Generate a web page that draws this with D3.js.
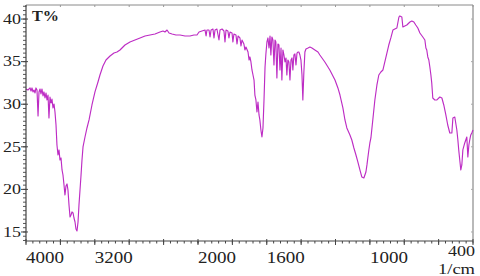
<!DOCTYPE html>
<html><head><meta charset="utf-8">
<script src="https://cdn.jsdelivr.net/npm/d3@7"></script>
<style>html,body{margin:0;padding:0;background:#fff;} svg{display:block;}</style>
</head><body><svg id="c" width="480" height="276"></svg>
<script>
const wavenumber = [4000,3977,3953,3942,3930,3919,3907,3895,3884,3872,3860,3849,3837,3826,3814,3802,3791,3779,3767,3756,3744,3733,3721,3709,3698,3686,3674,3663,3651,3640,3628,3616,3605,3593,3581,3570,3558,3547,3535,3523,3512,3500,3488,3477,3465,3453,3442,3430,3419,3407,3395,3384,3372,3360,3349,3337,3314,3291,3267,3233,3198,3163,3140,3105,3070,3023,2977,2942,2907,2849,2791,2733,2674,2616,2558,2500,2442,2407,2384,2360,2337,2302,2256,2209,2151,2093,2047,2012,1994,1977,1959,1953,1948,1936,1930,1924,1913,1907,1901,1890,1878,1872,1860,1849,1843,1837,1826,1820,1814,1802,1797,1791,1779,1773,1767,1756,1750,1744,1733,1727,1721,1709,1703,1698,1692,1686,1680,1674,1669,1663,1657,1651,1645,1640,1634,1628,1622,1616,1610,1605,1599,1593,1587,1581,1576,1570,1564,1558,1552,1547,1541,1535,1529,1523,1517,1512,1506,1500,1494,1488,1483,1477,1471,1465,1459,1453,1448,1442,1436,1430,1424,1419,1413,1407,1401,1395,1390,1384,1378,1372,1360,1349,1337,1320,1302,1291,1262,1233,1203,1186,1174,1157,1145,1134,1116,1105,1093,1081,1070,1058,1047,1035,1023,1017,1012,1006,1000,994,983,971,959,948,936,924,913,901,890,878,866,855,843,831,826,814,808,797,785,767,756,744,733,721,709,692,680,674,669,663,657,651,645,640,634,622,610,593,581,570,558,547,535,523,517,506,494,488,483,477,471,465,459,448,436,430,424,419,413,407,400];
const transmittance = [31.79,31.67,31.91,31.55,31.91,31.44,31.67,31.32,31.91,31.67,28.62,31.44,31.79,31.20,31.79,30.97,31.44,30.73,31.32,30.50,31.08,28.38,30.85,30.14,30.61,29.56,30.03,29.09,27.56,25.21,24.04,24.63,23.45,23.69,22.28,21.69,20.52,19.34,20.40,20.64,19.93,18.17,16.76,17.00,17.35,17.23,16.64,16.17,15.35,15.12,16.17,18.17,19.93,21.69,23.45,24.98,26.15,27.21,28.15,29.91,31.44,32.61,33.43,34.49,35.19,35.66,36.01,36.13,36.37,36.95,37.31,37.54,37.78,38.01,38.13,38.25,38.48,38.60,38.48,38.71,38.36,38.25,38.13,38.13,38.01,38.01,38.13,38.13,38.48,38.60,38.71,38.01,38.71,38.71,37.89,38.71,38.83,37.78,38.71,38.83,37.54,38.71,38.83,38.60,37.31,38.71,38.60,37.78,38.48,38.36,37.31,38.25,38.13,37.07,38.01,37.78,36.84,37.54,37.07,36.37,36.72,36.13,35.19,35.55,34.96,34.02,33.43,32.84,31.08,30.50,29.09,30.26,28.74,28.15,26.97,26.15,27.21,30.50,34.37,35.90,37.31,37.78,36.60,38.01,35.78,37.89,37.54,34.61,37.54,37.31,33.08,37.07,36.95,34.02,36.60,32.84,36.37,35.78,34.96,35.43,33.43,35.19,34.96,32.84,35.19,35.43,34.02,35.78,35.90,34.61,36.01,36.13,36.13,35.78,35.19,33.43,30.50,33.78,36.13,36.48,36.60,36.72,36.60,36.37,36.13,35.78,34.96,34.02,32.84,31.91,31.08,29.56,28.15,27.21,26.39,25.80,24.86,24.04,23.22,22.28,21.46,21.34,22.04,22.87,23.69,24.63,25.45,26.04,28.15,30.50,32.26,33.43,33.78,34.02,34.96,36.01,36.95,37.78,38.71,38.83,38.95,40.24,40.36,40.24,39.07,39.18,39.30,39.65,39.77,39.65,39.30,38.95,38.36,37.89,37.54,36.60,36.37,35.55,35.19,34.37,33.43,32.49,30.73,30.50,30.50,30.85,30.73,29.91,28.74,27.56,26.62,26.62,28.38,28.50,26.97,25.80,24.63,23.45,22.28,22.87,24.63,25.45,26.15,23.81,25.21,25.80,26.39,26.62,26.97];
const xMajorTicks = [4000,3600,3200,2800,2400,2000,1800,1600,1400,1200,1000,800,600,400];
const xLabelTicks = [4000,3200,2000,1600,1000,400];
const yMajorTicks = [15,20,25,30,35,40];
const yTitle = "T%";
const xUnit = "1/cm";

const W = 480, H = 276, m = {l:26, r:7, t:5, b:35};
const x = d3.scaleLinear().domain([4000, 2000, 400]).range([m.l, m.l + 172, W - m.r]);
const y = d3.scaleLinear().domain([13.94, 41.65]).range([H - m.b, m.t]);
const svg = d3.select("#c");
const serif = "'Liberation Serif','Times New Roman',serif";

// minor x ticks
const xMinor = [];
for (let v = 4000; v >= 2000; v -= 80) xMinor.push(v);
for (let v = 2000; v >= 400; v -= 40) xMinor.push(v);
const yMinor = d3.range(14, 41.6, 0.5);

// frame top/right
svg.append("line").attr("x1", m.l).attr("x2", W - m.r).attr("y1", m.t).attr("y2", m.t).attr("stroke", "#8a8a8a").attr("stroke-width", 1);
svg.append("line").attr("x1", W - m.r).attr("x2", W - m.r).attr("y1", m.t).attr("y2", H - m.b).attr("stroke", "#8a8a8a").attr("stroke-width", 1.2);
// top frame small ticks
svg.append("g").selectAll("line").data(xMajorTicks).join("line")
  .attr("x1", d => x(d)).attr("x2", d => x(d)).attr("y1", m.t).attr("y2", m.t + 2)
  .attr("stroke", "#999").attr("stroke-width", 1);
// right frame small ticks
svg.append("g").selectAll("line").data(yMajorTicks).join("line")
  .attr("x1", W - m.r - 2).attr("x2", W - m.r).attr("y1", d => y(d)).attr("y2", d => y(d))
  .attr("stroke", "#aaa").attr("stroke-width", 1);

// spectrum
const pts = wavenumber.map((w, i) => [w, transmittance[i]]);
svg.append("path").datum(pts)
  .attr("fill", "none").attr("stroke", "#bd2cc4").attr("stroke-width", 1.15).attr("stroke-linejoin", "round")
  .attr("d", d3.line().x(d => x(d[0])).y(d => y(d[1])));

// axes lines
const axisCol = "#444";
svg.append("line").attr("x1", m.l).attr("x2", m.l).attr("y1", m.t).attr("y2", H - m.b).attr("stroke", axisCol).attr("stroke-width", 1.2);
svg.append("line").attr("x1", m.l).attr("x2", W - m.r).attr("y1", H - m.b).attr("y2", H - m.b).attr("stroke", axisCol).attr("stroke-width", 1.2);

// x ticks
svg.append("g").selectAll("line").data(xMinor).join("line")
  .attr("x1", d => x(d)).attr("x2", d => x(d)).attr("y1", H - m.b).attr("y2", H - m.b + 2.5)
  .attr("stroke", axisCol).attr("stroke-width", 1);
svg.append("g").selectAll("line").data(xMajorTicks).join("line")
  .attr("x1", d => x(d)).attr("x2", d => x(d)).attr("y1", H - m.b - 2).attr("y2", H - m.b + 4)
  .attr("stroke", axisCol).attr("stroke-width", 1);
// y ticks
svg.append("g").selectAll("line").data(yMinor).join("line")
  .attr("x1", m.l - 3).attr("x2", m.l).attr("y1", d => y(d)).attr("y2", d => y(d))
  .attr("stroke", axisCol).attr("stroke-width", 0.9);
svg.append("g").selectAll("line").data(yMajorTicks).join("line")
  .attr("x1", m.l - 5).attr("x2", m.l + 2).attr("y1", d => y(d)).attr("y2", d => y(d))
  .attr("stroke", axisCol).attr("stroke-width", 1);

// x labels
svg.append("g").selectAll("text").data(xLabelTicks).join("text")
  .attr("x", d => d === 400 ? W - m.r + 2 : x(d))
  .attr("y", d => d === 400 ? 256 : 263)
  .attr("text-anchor", d => d === 400 ? "end" : "start")
  .attr("textLength", d => d === 400 ? 27 : 38)
  .attr("lengthAdjust", "spacingAndGlyphs")
  .attr("font-family", serif).attr("font-size", d => d === 400 ? 15 : 16).attr("fill", "#222")
  .text(d => d);
svg.append("text").attr("x", W - m.r + 2).attr("y", 274).attr("text-anchor", "end")
  .attr("textLength", 37).attr("lengthAdjust", "spacingAndGlyphs")
  .attr("font-family", serif).attr("font-size", 15).attr("fill", "#222").text(xUnit);

// y labels
svg.append("g").selectAll("text").data(yMajorTicks).join("text")
  .attr("x", m.l - 5).attr("y", d => y(d) + 4.8)
  .attr("text-anchor", "end")
  .attr("textLength", 18).attr("lengthAdjust", "spacingAndGlyphs")
  .attr("font-family", serif).attr("font-size", 14.5).attr("fill", "#222")
  .text(d => d);

// title
svg.append("text").attr("x", 32).attr("y", 21)
  .attr("textLength", 27).attr("lengthAdjust", "spacingAndGlyphs")
  .attr("font-family", serif).attr("font-size", 15).attr("font-weight", "bold").attr("fill", "#222")
  .text(yTitle);
</script>
</body></html>
